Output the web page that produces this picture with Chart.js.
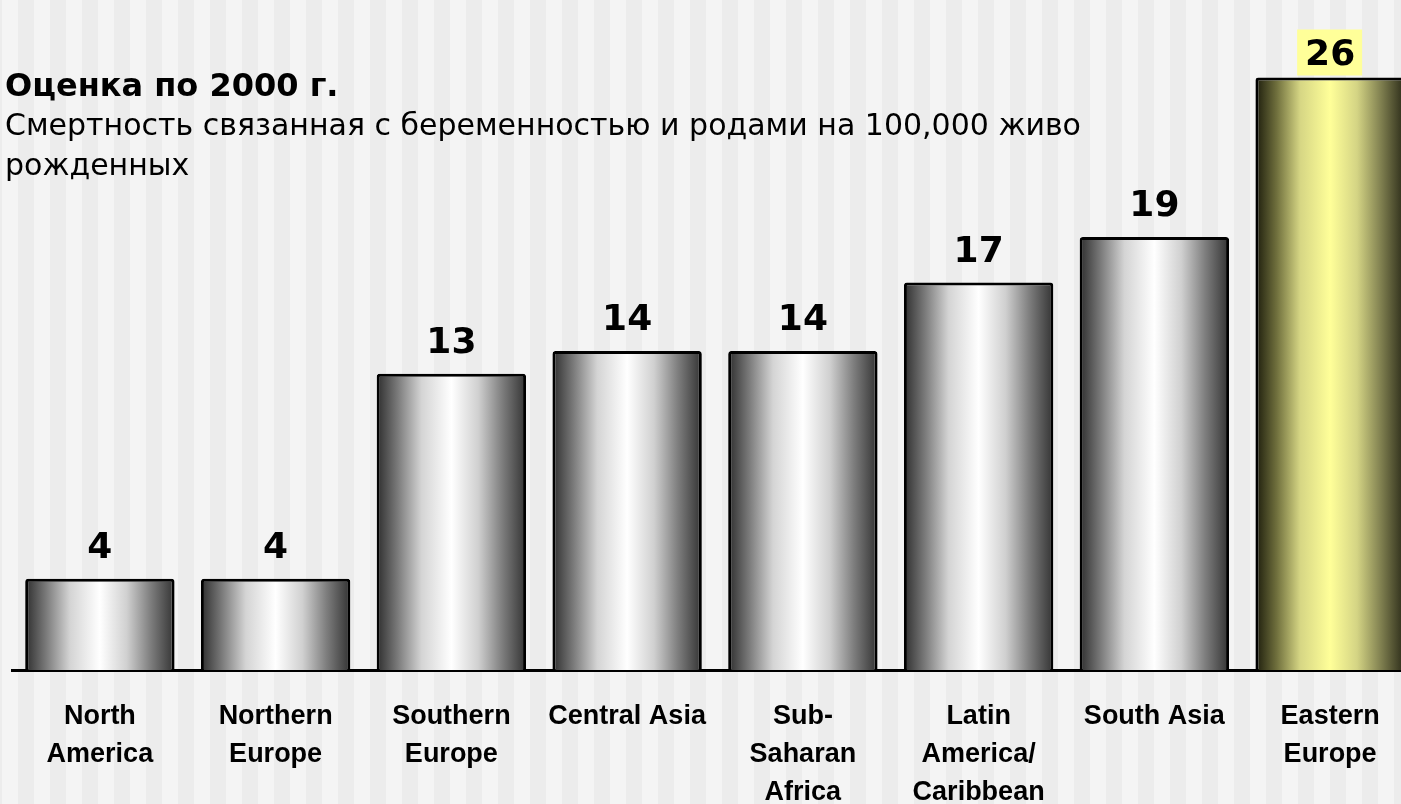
<!DOCTYPE html>
<html>
<head>
<meta charset="utf-8">
<script src="https://cdn.jsdelivr.net/npm/chart.js@4.4.1/dist/chart.umd.min.js"></script>
<style>
    html, body { margin: 0; padding: 0; overflow: hidden; background: #ececec; }
    #marco { position: relative; width: 1401px; height: 804px; overflow: hidden; }
    #Grafico { position: absolute; left: 0; top: 0; }
    .titulo { position: absolute; left: 5px; white-space: nowrap; font-family: "DejaVu Sans", Verdana, sans-serif; color: #000; }
    #titulo1 { top: 67px; font-size: 32px; line-height: 36px; font-weight: bold; }
    #titulo2 { top: 105px; font-size: 30px; line-height: 40px; }
</style>
</head>
<body>
<div id="marco">
    <canvas id="Grafico" width="1418" height="804"></canvas>
    <div class="titulo" id="titulo1">Оценка по 2000 г.</div>
    <div class="titulo" id="titulo2">Смертность связанная с беременностью и родами на 100,000 живо<br>рожденных</div>
</div>
<script>
const categorias = [
    ['North', 'America'],
    ['Northern', 'Europe'],
    ['Southern', 'Europe'],
    'Central Asia',
    ['Sub-', 'Saharan', 'Africa'],
    ['Latin', 'America/', 'Caribbean'],
    'South Asia',
    ['Eastern', 'Europe']
];
const valores = [4, 4, 13, 14, 14, 17, 19, 26];
const destacado = 7;

const paradas_gris = [[0, '#2e2e2e'], [0.14, '#7a7a7a'], [0.3, '#d4d4d4'], [0.5, '#ffffff'], [0.68, '#d0d0d0'], [0.84, '#7e7e7e'], [1, '#333333']];
const paradas_amarillo = [[0, '#1c1c0c'], [0.14, '#6e6e3c'], [0.3, '#d6d684'], [0.5, '#ffff99'], [0.68, '#d4d484'], [0.84, '#808050'], [1, '#2a2a18']];

function degradado(chart, x, ancho, i){
    const g = chart.ctx.createLinearGradient(x - ancho / 2, 0, x + ancho / 2, 0);
    const paradas = i === destacado ? paradas_amarillo : paradas_gris;
    for(let k = 0; k < paradas.length; k++){
        g.addColorStop(paradas[k][0], paradas[k][1]);
    }
    return g;
}

// fondo con franjas verticales
const fondo = {
    id: 'fondo',
    beforeDraw(chart){
        const ctx = chart.ctx;
        ctx.save();
        ctx.fillStyle = '#ececec';
        ctx.fillRect(0, 0, chart.width, chart.height);
        ctx.fillStyle = '#f4f4f4';
        for(let x = 2; x < chart.width; x += 32){
            ctx.fillRect(x, 0, 16, chart.height);
        }
        ctx.restore();
    }
};

// degradado horizontal de cada barra, ya con su posicion final
const relleno = {
    id: 'relleno',
    beforeDatasetsDraw(chart){
        const meta = chart.getDatasetMeta(0);
        meta.data.forEach((barra, i) => {
            const opciones = Object.assign({}, barra.options);
            opciones.backgroundColor = degradado(chart, barra.x, barra.width, i);
            barra.options = opciones;
        });
    }
};

// valores encima de las barras
const etiquetas = {
    id: 'etiquetas',
    afterDatasetsDraw(chart){
        const ctx = chart.ctx;
        const meta = chart.getDatasetMeta(0);
        ctx.save();
        ctx.font = 'bold 36px "DejaVu Sans"';
        ctx.textAlign = 'center';
        ctx.textBaseline = 'alphabetic';
        meta.data.forEach((barra, i) => {
            const texto = String(valores[i]);
            if(i === destacado){
                ctx.fillStyle = '#ffff99';
                ctx.fillRect(barra.x - 33, barra.y - 48, 65, 46);
                ctx.fillStyle = '#000';
                ctx.fillText(texto, barra.x, barra.y - 12);
            } else {
                ctx.fillStyle = '#000';
                ctx.fillText(texto, barra.x, barra.y - 21);
            }
        });
        ctx.restore();
    }
};

new Chart(document.getElementById('Grafico'), {
    type: 'bar',
    data: {
        labels: categorias,
        datasets: [{
            data: valores,
            backgroundColor: '#cccccc',
            borderColor: '#000',
            borderWidth: 3,
            borderSkipped: 'bottom',
            borderRadius: 3,
            barPercentage: 0.85,
            categoryPercentage: 1.0
        }]
    },
    options: {
        responsive: false,
        animation: false,
        layout: { padding: { left: 12, right: 0, top: 0, bottom: 0 } },
        plugins: {
            legend: { display: false },
            tooltip: { enabled: false }
        },
        scales: {
            x: {
                grid: { display: false, drawTicks: false },
                border: { display: true, color: '#000', width: 3 },
                ticks: {
                    color: '#000',
                    autoSkip: false,
                    maxRotation: 0,
                    padding: 28,
                    font: { family: 'Liberation Sans', size: 27, weight: 'bold', lineHeight: '38px' }
                },
                afterFit: (escala) => { escala.height = 134; }
            },
            y: {
                display: false,
                min: 0,
                max: 29.4
            }
        }
    },
    plugins: [fondo, relleno, etiquetas]
});
</script>
</body>
</html>
